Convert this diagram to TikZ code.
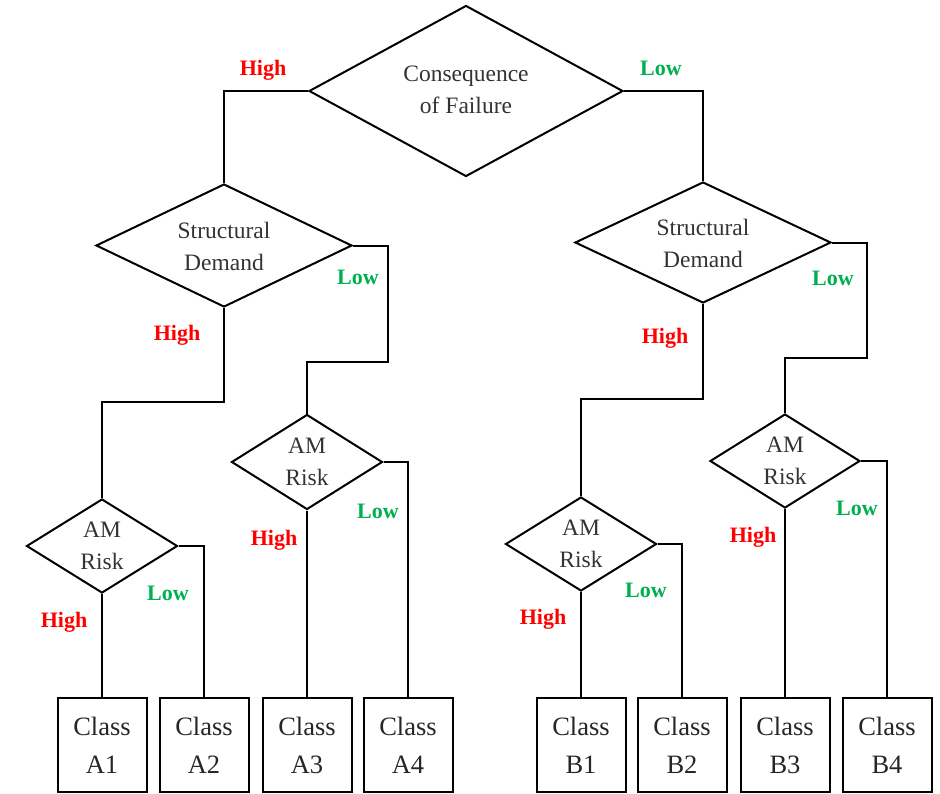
\documentclass[tikz,border=0pt]{standalone}
\usepackage{fontspec}
\setmainfont{Liberation Serif}
\usetikzlibrary{shapes.geometric}
\definecolor{hired}{HTML}{FF0000}
\definecolor{logreen}{HTML}{00B050}
\definecolor{txtgray}{HTML}{333333}
\tikzset{
  dec/.style={draw=black, line width=2pt, shape=diamond, inner sep=0pt},
  dtext/.style={inner sep=0pt, align=center, text=txtgray, font=\fontsize{23.5}{32}\selectfont},
  classbox/.style={draw=black, line width=2pt, minimum width=89pt, minimum height=94pt,
    inner sep=0pt, align=center, text=black!85, font=\fontsize{26.5}{38}\selectfont},
  conn/.style={draw=black, line width=2pt},
  hi/.style={text=hired, font=\bfseries\fontsize{22}{22}\selectfont, anchor=base, inner sep=0pt},
  lo/.style={text=logreen, font=\bfseries\fontsize{22}{22}\selectfont, anchor=base, inner sep=0pt},
}
\begin{document}
\begin{tikzpicture}[x=1pt,y=-1pt]
\useasboundingbox (0,0) rectangle (940,793);
% decision nodes
\node[dec, minimum width=314pt, minimum height=171pt] (cof) at (466,91) {};
\node[dec, minimum width=256pt, minimum height=123pt] (sdl) at (224,245.5) {};
\node[dec, minimum width=256pt, minimum height=121pt] (sdr) at (703,242.5) {};
\node[dec, minimum width=151pt, minimum height=94pt] (ama) at (102,546) {};
\node[dec, minimum width=151pt, minimum height=95pt] (amb) at (307,462) {};
\node[dec, minimum width=151pt, minimum height=94pt] (amc) at (581,544) {};
\node[dec, minimum width=150pt, minimum height=94pt] (amd) at (785,461) {};
\node[dtext] (cofT) at ([yshift=1pt]cof.center) {Consequence\\of Failure};
\node[dtext] (sdlT) at ([yshift=-1pt]sdl.center) {Structural\\Demand};
\node[dtext] (sdrT) at ([yshift=-1pt]sdr.center) {Structural\\Demand};
\node[dtext] (amaT) at (ama.center) {AM\\Risk};
\node[dtext] (ambT) at (amb.center) {AM\\Risk};
\node[dtext] (amcT) at (amc.center) {AM\\Risk};
\node[dtext] (amdT) at (amd.center) {AM\\Risk};
% class boxes
\node[classbox] (a1) at (102,745) {Class\\A1};
\node[classbox] (a2) at (204,745) {Class\\A2};
\node[classbox] (a3) at (307,745) {Class\\A3};
\node[classbox] (a4) at (408,745) {Class\\A4};
\node[classbox] (b1) at (581,745) {Class\\B1};
\node[classbox] (b2) at (682,745) {Class\\B2};
\node[classbox] (b3) at (785,745) {Class\\B3};
\node[classbox] (b4) at (887,745) {Class\\B4};
% bend points
\coordinate (sdlH) at (102,402);
\coordinate (sdlL) at (388,362);
\coordinate (sdrH) at (581,399);
\coordinate (sdrL) at (867,358);
% connectors
\draw[conn] (cof.west) -| (sdl.north);
\draw[conn] (cof.east) -| (sdr.north);
\draw[conn] (sdl.south) |- (sdlH) -- (ama.north);
\draw[conn] (sdl.east) -| (sdlL) -| (amb.north);
\draw[conn] (sdr.south) |- (sdrH) -- (amc.north);
\draw[conn] (sdr.east) -| (sdrL) -| (amd.north);
\draw[conn] (ama.south) -- (a1.north);
\draw[conn] (ama.east) -| (a2.north);
\draw[conn] (amb.south) -- (a3.north);
\draw[conn] (amb.east) -| (a4.north);
\draw[conn] (amc.south) -- (b1.north);
\draw[conn] (amc.east) -| (b2.north);
\draw[conn] (amd.south) -- (b3.north);
\draw[conn] (amd.east) -| (b4.north);
% labels
\node[hi] (l1) at (263,75) {High};
\node[lo] (l2) at (661,75) {Low};
\node[hi] (l3) at (177,340) {High};
\node[lo] (l4) at (358,284) {Low};
\node[hi] (l5) at (64,627) {High};
\node[lo] (l6) at (168,600) {Low};
\node[hi] (l7) at (274,545) {High};
\node[lo] (l8) at (378,518) {Low};
\node[hi] (l9) at (665,343) {High};
\node[lo] (l10) at (833,285) {Low};
\node[hi] (l11) at (543,624) {High};
\node[lo] (l12) at (646,597) {Low};
\node[hi] (l13) at (753,542) {High};
\node[lo] (l14) at (857,515) {Low};
\end{tikzpicture}
\end{document}
